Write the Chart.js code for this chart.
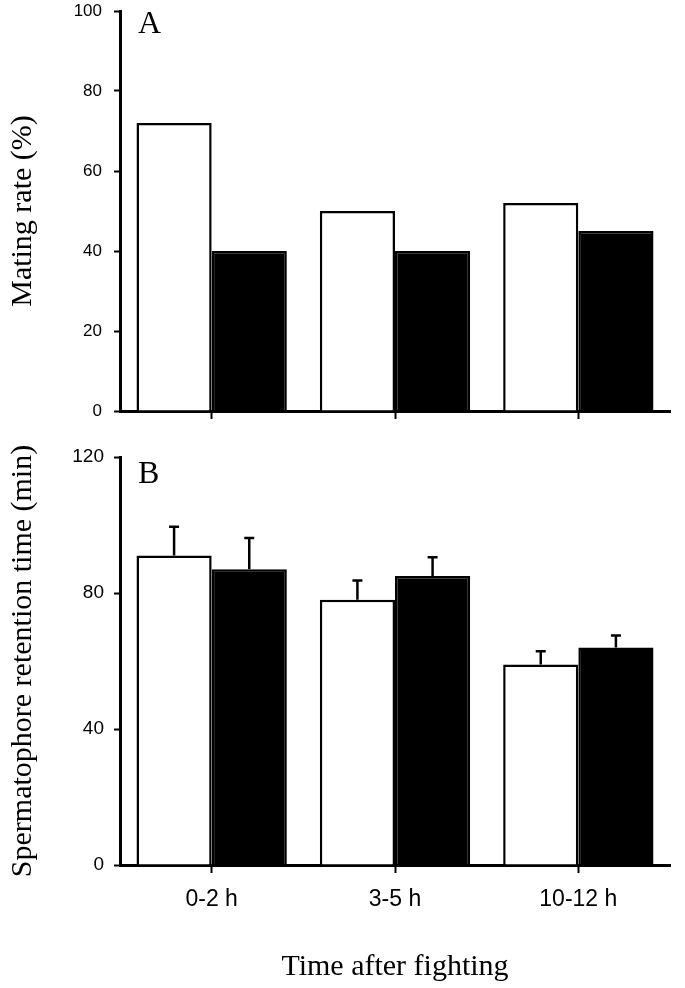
<!DOCTYPE html>
<html>
<head>
<meta charset="utf-8">
<script src="https://cdn.jsdelivr.net/npm/chart.js@4"></script>
<style>
  body { margin: 0; background: #fff; }
  #wrap { position: relative; width: 685px; height: 988px; }
  #c1 { position: absolute; left: 0; top: 0; }
  #c2 { position: absolute; left: 0; top: 430px; }
</style>
</head>
<body>
<div id="wrap">
  <canvas id="c1" width="685" height="430"></canvas>
  <canvas id="c2" width="685" height="558"></canvas>
</div>
<script>
// datos
const categories = ['0-2 h', '3-5 h', '10-12 h'];
const matingWhite = [72, 50, 52];
const matingBlack = [40, 40, 45];
const matingTicks = [0, 20, 40, 60, 80, 100];

const retentionWhite = [91, 78, 59];
const retentionBlack = [87, 85, 64];
const retentionWhiteErr = [8.5, 5.7, 3.9];
const retentionBlackErr = [9.2, 5.5, 3.5];
const retentionTicks = [0, 40, 80, 120];

const SANS = 'Liberation Sans';
const SERIF = 'Liberation Serif';

/* barras de error (solo hacia arriba) */
const errorBars = {
  id: 'errorBars',
  afterDatasetsDraw(chart) {
    const ctx = chart.ctx;
    const y = chart.scales.y;
    chart.data.datasets.forEach((ds, i) => {
      if (!ds.err) return;
      chart.getDatasetMeta(i).data.forEach((bar, j) => {
        const top = y.getPixelForValue(ds.data[j] + ds.err[j]);
        ctx.save();
        ctx.strokeStyle = '#000';
        ctx.lineWidth = 2.5;
        ctx.beginPath();
        ctx.moveTo(bar.x, bar.y);
        ctx.lineTo(bar.x, top);
        ctx.moveTo(bar.x - 5, top);
        ctx.lineTo(bar.x + 5, top);
        ctx.stroke();
        ctx.restore();
      });
    });
  }
};

/* letra del panel (A / B) */
const panelLetter = {
  id: 'panelLetter',
  afterDraw(chart, args, opts) {
    const ctx = chart.ctx;
    const area = chart.chartArea;
    ctx.save();
    ctx.fillStyle = '#000';
    ctx.font = '32px "' + SERIF + '"';
    ctx.textBaseline = 'alphabetic';
    ctx.fillText(opts.text, area.left + 18, area.top + opts.dy);
    ctx.restore();
  }
};

function makeOptions(o) {
  return {
    responsive: false,
    animation: false,
    layout: { padding: { top: o.padTop, right: 15, left: 0, bottom: 0 } },
    plugins: {
      legend: { display: false },
      tooltip: { enabled: false },
      panelLetter: { text: o.letter, dy: o.letterDy }
    },
    scales: {
      x: {
        grid: { offset: false, drawOnChartArea: false, tickLength: 8, tickWidth: 2, tickColor: '#000' },
        border: { display: true, color: '#000', width: 3 },
        ticks: {
          display: o.showX,
          color: '#000',
          font: { family: SANS, size: 23 },
          padding: 13,
          maxRotation: 0
        },
        title: {
          display: o.showX,
          text: 'Time after fighting',
          color: '#000',
          font: { family: SERIF, size: 30 },
          padding: { top: 0, bottom: 3 }
        },
        afterFit: s => { s.height = o.xHeight; }
      },
      y: {
        min: 0,
        max: o.max,
        afterBuildTicks: s => { s.ticks = o.ticks.map(v => ({ value: v })); },
        grid: { drawOnChartArea: false, tickLength: 6, tickWidth: 2, tickColor: '#000' },
        border: { display: true, color: '#000', width: 3 },
        ticks: { color: '#000', font: { family: SANS, size: o.tickSize }, padding: o.tickPad },
        title: {
          display: true,
          text: o.yTitle,
          color: '#000',
          font: { family: SERIF, size: 30 },
          padding: { top: 5, bottom: 0 }
        },
        // ancho fijo del eje y sin margen extra arriba/abajo
        afterFit: s => {
          s.width = 120;
          s.paddingTop = 0;
          s.paddingBottom = 0;
        }
      }
    }
  };
}

function barSet(data, fill, err) {
  return {
    data: data,
    err: err,
    backgroundColor: fill,
    borderColor: '#000',
    borderWidth: 2.5,
    categoryPercentage: 0.82,
    barPercentage: 1
  };
}

// Panel A: tasa de apareamiento
new Chart(document.getElementById('c1'), {
  type: 'bar',
  data: {
    labels: categories,
    datasets: [barSet(matingWhite, '#fff'), barSet(matingBlack, '#000')]
  },
  options: makeOptions({
    padTop: 11, max: 100, ticks: matingTicks, tickSize: 17, tickPad: 12,
    yTitle: 'Mating rate (%)', showX: false, xHeight: 19, letter: 'A', letterDy: 22
  }),
  plugins: [errorBars, panelLetter]
});

// Panel B: tiempo de retencion del espermatoforo
new Chart(document.getElementById('c2'), {
  type: 'bar',
  data: {
    labels: categories,
    datasets: [
      barSet(retentionWhite, '#fff', retentionWhiteErr),
      barSet(retentionBlack, '#000', retentionBlackErr)
    ]
  },
  options: makeOptions({
    padTop: 27, max: 120, ticks: retentionTicks, tickSize: 19, tickPad: 10,
    yTitle: 'Spermatophore retention time (min)', showX: true, xHeight: 123, letter: 'B', letterDy: 26
  }),
  plugins: [errorBars, panelLetter]
});
</script>
</body>
</html>
